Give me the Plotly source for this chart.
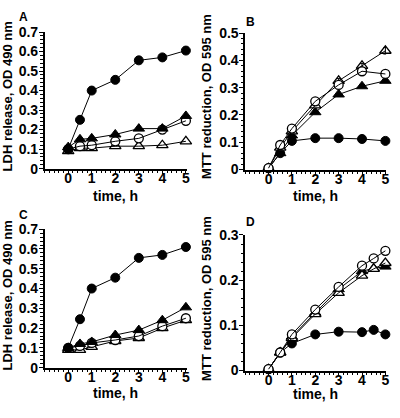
import plotly.graph_objects as go

# ---- data ----
t = [0, 0.5, 1, 2, 3, 4, 5]
t_d = [0, 0.5, 1, 2, 3, 4, 4.5, 5]

# Panel A: LDH release, OD 490 nm
a_filled_circle = [0.10, 0.25, 0.40, 0.455, 0.555, 0.57, 0.605]
a_filled_tri = [0.11, 0.15, 0.155, 0.175, 0.205, 0.205, 0.27]
a_open_circle = [0.10, 0.115, 0.12, 0.14, 0.155, 0.20, 0.245]
a_open_tri = [0.09, 0.105, 0.105, 0.115, 0.115, 0.12, 0.14]

# Panel B: MTT reduction, OD 595 nm
b_filled_circle = [0.005, 0.06, 0.105, 0.115, 0.115, 0.112, 0.105]
b_filled_tri = [0.005, 0.06, 0.125, 0.21, 0.275, 0.305, 0.325]
b_open_circle = [0.005, 0.09, 0.15, 0.25, 0.31, 0.36, 0.35]
b_open_tri = [0.005, 0.08, 0.14, 0.235, 0.325, 0.38, 0.435]
b_open_tri_err = [0, 0, 0, 0, 0.008, 0.008, 0.012]

# Panel C: LDH release, OD 490 nm
c_filled_circle = [0.10, 0.245, 0.40, 0.455, 0.555, 0.57, 0.61]
c_filled_tri = [0.10, 0.12, 0.13, 0.165, 0.19, 0.24, 0.305]
c_open_circle = [0.10, 0.11, 0.125, 0.14, 0.16, 0.21, 0.25]
c_open_tri = [0.09, 0.09, 0.105, 0.135, 0.15, 0.20, 0.24]

# Panel D: MTT reduction, OD 595 nm
d_filled_circle = [0.003, 0.04, 0.06, 0.08, 0.086, 0.085, 0.09, 0.08]
d_filled_tri = [0.003, 0.04, 0.075, 0.128, 0.18, 0.22, 0.226, 0.23]
d_open_circle = [0.003, 0.04, 0.08, 0.135, 0.185, 0.232, 0.248, 0.265]
d_open_tri = [0.003, 0.04, 0.072, 0.125, 0.172, 0.21, 0.225, 0.238]

x_ticks = [0, 1, 2, 3, 4, 5]
ldh_ticks = [0, 0.1, 0.2, 0.3, 0.4, 0.5, 0.6, 0.7]
ldh_labels = ["0", "0.1", "0.2", "0.3", "0.4", "0.5", "0.6", "0.7"]
mttb_ticks = [0, 0.1, 0.2, 0.3, 0.4, 0.5]
mttb_labels = ["0", "0.1", "0.2", "0.3", "0.4", "0.5"]
mttd_ticks = [0, 0.1, 0.2, 0.3]
mttd_labels = ["0", "0.1", "0.2", "0.3"]

FONT = "Liberation Sans, Arial, Helvetica, sans-serif"
W, H = 400, 418

fig = go.Figure()

styles = {
    "fc": dict(symbol="circle", color="black", line=dict(color="black", width=1)),
    "ft": dict(symbol="triangle-up", color="black", line=dict(color="black", width=1)),
    "oc": dict(symbol="circle-open", color="black", line=dict(color="black", width=1.3)),
    "ot": dict(symbol="triangle-up-open", color="black", line=dict(color="black", width=1.3)),
}
sizes = {"fc": 9, "ft": 10, "oc": 9, "ot": 10}


def add(x, y, kind, ax, err=None):
    xa = "x" if ax == 1 else f"x{ax}"
    ya = "y" if ax == 1 else f"y{ax}"
    m = dict(styles[kind])
    m["size"] = sizes[kind]
    tr = go.Scatter(x=x, y=y, mode="lines+markers", xaxis=xa, yaxis=ya,
                    line=dict(color="black", width=1), marker=m,
                    cliponaxis=False, showlegend=False)
    if err is not None:
        tr.error_y = dict(type="data", array=err, color="black", thickness=1, width=2)
    if kind in ("oc", "ot"):
        fig.add_trace(go.Scatter(x=x, y=y, mode="markers", xaxis=xa, yaxis=ya,
                                 marker=dict(symbol="circle" if kind == "oc" else "triangle-up",
                                             size=sizes[kind], color="white"),
                                 cliponaxis=False, showlegend=False, hoverinfo="skip"))
    fig.add_trace(tr)


add(t, a_open_tri, "ot", 1)
add(t, a_open_circle, "oc", 1)
add(t, a_filled_tri, "ft", 1)
add(t, a_filled_circle, "fc", 1)

add(t, b_filled_circle, "fc", 2)
add(t, b_filled_tri, "ft", 2)
add(t, b_open_tri, "ot", 2, err=b_open_tri_err)
add(t, b_open_circle, "oc", 2)

add(t, c_open_tri, "ot", 3)
add(t, c_open_circle, "oc", 3)
add(t, c_filled_tri, "ft", 3)
add(t, c_filled_circle, "fc", 3)

add(t_d, d_filled_circle, "fc", 4)
add(t_d, d_filled_tri, "ft", 4)
add(t_d, d_open_tri, "ot", 4)
add(t_d, d_open_circle, "oc", 4)

tickfont = dict(family=FONT, size=14, color="black", weight="bold")


def xaxis(domain, anchor):
    return dict(domain=domain, anchor=anchor, range=[-1, 5.03],
                tickvals=x_ticks, ticktext=[str(v) for v in x_ticks],
                ticks="outside", ticklen=4, tickwidth=1.3, tickcolor="black",
                showline=True, linecolor="black", linewidth=1.5,
                showgrid=False, zeroline=False, tickfont=tickfont,
                ticklabelstandoff=-8,
                minor=dict(dtick=0.2, tick0=-1, ticks="outside", ticklen=2.5,
                           tickwidth=1, tickcolor="black", showgrid=False))


def yaxis(domain, anchor, rng, vals, labels):
    return dict(domain=domain, anchor=anchor, range=rng,
                tickvals=vals, ticktext=labels,
                ticks="outside", ticklen=4, tickwidth=1.3, tickcolor="black",
                showline=True, linecolor="black", linewidth=1.5,
                showgrid=False, zeroline=False, tickfont=tickfont,
                ticklabelstandoff=-2,
                minor=dict(dtick=0.02, tick0=0, ticks="outside", ticklen=2.5,
                           tickwidth=1, tickcolor="black", showgrid=False))


def px_x(p):
    return p / W


def px_y(p):
    return 1 - p / H


xa_left = [px_x(45), px_x(188)]
xa_right = [px_x(247), px_x(389)]

fig.update_layout(
    width=W, height=H, margin=dict(l=0, r=0, t=0, b=0),
    paper_bgcolor="white", plot_bgcolor="white",
    xaxis=xaxis(xa_left, "y"),
    yaxis=yaxis([px_y(167), px_y(25)], "x", [0, 0.7], ldh_ticks, ldh_labels),
    xaxis2=xaxis(xa_right, "y2"),
    yaxis2=yaxis([px_y(168), px_y(26)], "x2", [0, 0.5], mttb_ticks, mttb_labels),
    xaxis3=xaxis(xa_left, "y3"),
    yaxis3=yaxis([px_y(374), px_y(230)], "x3", [0, 0.7], ldh_ticks, ldh_labels),
    xaxis4=xaxis(xa_right, "y4"),
    yaxis4=yaxis([px_y(377), px_y(236)], "x4", [0, 0.3], mttd_ticks, mttd_labels),
)

titlefont = dict(family=FONT, size=13, color="black", weight="bold")
xtitlefont = dict(family=FONT, size=14, color="black", weight="bold")
letterfont = dict(family=FONT, size=12, color="black", weight="bold")

ann = []
for txt, cx, cy in [("LDH release, OD 490 nm", 8, 92),
                    ("MTT reduction, OD 595 nm", 208, 92),
                    ("LDH release, OD 490 nm", 8, 299),
                    ("MTT reduction, OD 595 nm", 208, 302)]:
    ann.append(dict(text=txt, x=px_x(cx), y=px_y(cy), xref="paper", yref="paper",
                    showarrow=False, textangle=-90, font=titlefont,
                    xanchor="center", yanchor="middle"))
for cx, cy in [(116, 196), (318, 196), (116, 400), (318, 401)]:
    ann.append(dict(text="time, h", x=px_x(cx), y=px_y(cy), xref="paper", yref="paper",
                    showarrow=False, font=xtitlefont, xanchor="center", yanchor="middle"))
for txt, cx, cy in [("A", 24, 9), ("B", 252, 15), ("C", 24, 215), ("D", 252, 222)]:
    ann.append(dict(text=txt, x=px_x(cx), y=px_y(cy), xref="paper", yref="paper",
                    showarrow=False, font=letterfont, xanchor="center", yanchor="middle"))
fig.update_layout(annotations=ann)

fig.write_html("out.html", config={"displayModeBar": False},
               post_script="document.body.style.margin='0px';")
